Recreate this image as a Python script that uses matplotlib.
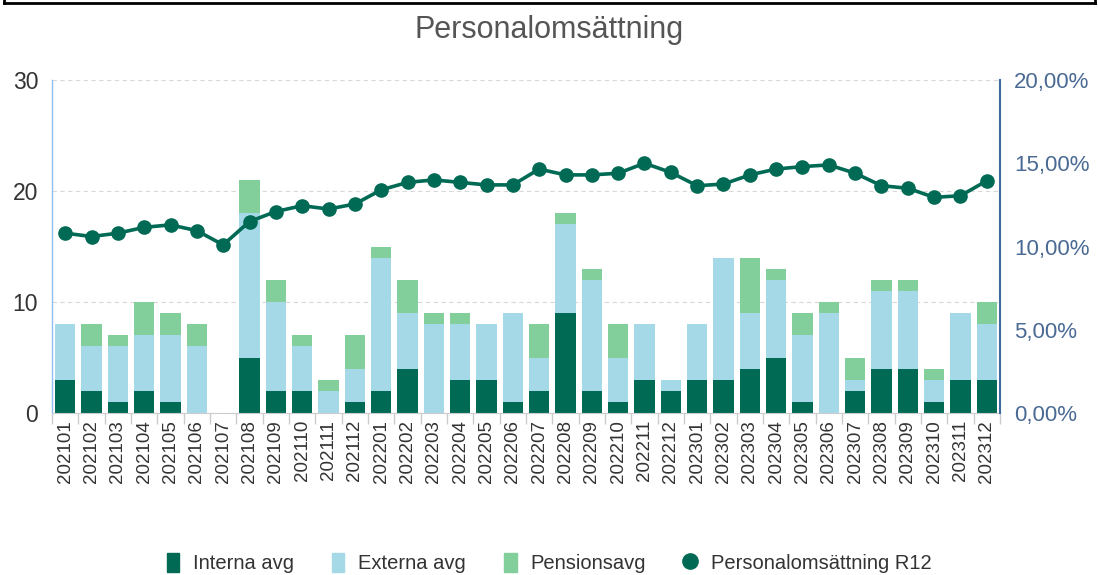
import numpy as np
import matplotlib
matplotlib.use("Agg")
import matplotlib.pyplot as plt
from matplotlib.lines import Line2D
from matplotlib.patches import Patch
from matplotlib.ticker import FuncFormatter

plt.rcParams['font.family'] = ['Liberation Sans', 'DejaVu Sans']

# months
months = ["202101", "202102", "202103", "202104", "202105", "202106",
          "202107", "202108", "202109", "202110", "202111", "202112",
          "202201", "202202", "202203", "202204", "202205", "202206",
          "202207", "202208", "202209", "202210", "202211", "202212",
          "202301", "202302", "202303", "202304", "202305", "202306",
          "202307", "202308", "202309", "202310", "202311", "202312"]

# leavers per month
interna = [3, 2, 1, 2, 1, 0, 0, 5, 2, 2, 0, 1,
           2, 4, 0, 3, 3, 1, 2, 9, 2, 1, 3, 2,
           3, 3, 4, 5, 1, 0, 2, 4, 4, 1, 3, 3]
externa = [5, 4, 5, 5, 6, 6, 0, 13, 8, 4, 2, 3,
           12, 5, 8, 5, 5, 8, 3, 8, 10, 4, 5, 1,
           5, 11, 5, 7, 6, 9, 1, 7, 7, 2, 6, 5]
pension = [0, 2, 1, 3, 2, 2, 0, 3, 2, 1, 1, 3,
           1, 3, 1, 1, 0, 0, 3, 1, 1, 3, 0, 0,
           0, 0, 5, 1, 2, 1, 2, 1, 1, 1, 0, 2]

# rolling 12 month turnover (%)
r12 = [10.8, 10.6, 10.8, 11.15, 11.3, 10.95, 10.1, 11.5, 12.1, 12.45, 12.25, 12.55,
       13.4, 13.85, 14.0, 13.85, 13.7, 13.7, 14.65, 14.3, 14.3, 14.4, 15.0, 14.45,
       13.65, 13.75, 14.3, 14.65, 14.8, 14.9, 14.4, 13.65, 13.5, 12.95, 13.05, 13.95]

c_int = "#006a55"
c_ext = "#a6d9e7"
c_pen = "#83cf9c"

fig = plt.figure(figsize=(10.98, 5.75), dpi=100)
ax = fig.add_axes([52/1098, 1 - 413/575, 948/1098, 333/575])
ax2 = ax.twinx()

x = np.arange(len(months))
w = 0.76
interna = np.array(interna)
externa = np.array(externa)
pension = np.array(pension)

ax.bar(x, interna, w, color=c_int, zorder=2)
ax.bar(x, externa, w, bottom=interna, color=c_ext, zorder=2)
ax.bar(x, pension, w, bottom=interna + externa, color=c_pen, zorder=2)

ax2.plot(x, r12, color=c_int, lw=2.6, marker="o", markersize=9.5, zorder=3)

ax.set_xlim(-0.5, len(months) - 0.5)
ax.set_ylim(0, 30)
ax.set_yticks([0, 10, 20, 30])
ax2.set_ylim(0, 20)
ax2.set_yticks([0, 5, 10, 15, 20])
ax2.yaxis.set_major_formatter(FuncFormatter(lambda v, p: f"{v:.2f}%".replace(".", ",")))

ax.yaxis.grid(True, color="#d8d8d8", ls=(0, (4, 3)), lw=0.8, zorder=0)
ax.set_axisbelow(True)

# x ticks between categories
ax.set_xticks(x)
ax.set_xticklabels(months, rotation=90, fontsize=13.5, color="#333333")
ax.set_xticks(np.arange(-0.5, len(months), 1), minor=True)
ax.tick_params(axis="x", which="major", length=0, pad=5)
ax.tick_params(axis="x", which="minor", length=8, color="#cccccc", width=1)
ax.tick_params(axis="y", length=0, labelsize=16.5, labelcolor="#333333", pad=10)
ax2.tick_params(axis="y", length=0, labelsize=16, labelcolor="#4a6a94", pad=10)

for a in (ax, ax2):
    for s in a.spines.values():
        s.set_visible(False)
ax.spines["left"].set_visible(True)
ax.spines["left"].set_color("#8fbff0")
ax.spines["left"].set_linewidth(1)
ax2.spines["right"].set_visible(True)
ax2.spines["right"].set_color("#3e6aa0")
ax2.spines["right"].set_linewidth(1.5)
ax.spines["bottom"].set_visible(True)
ax.spines["bottom"].set_color("#cccccc")

fig.text(0.5, 1 - 38/575, "Personalomsättning", ha="center", va="baseline",
         fontsize=22, color="#555555")

handles = [Patch(color=c_int), Patch(color=c_ext), Patch(color=c_pen),
           Line2D([], [], color=c_int, marker="o", lw=0, markersize=11)]
labels = ["Interna avg", "Externa avg", "Pensionsavg", "Personalomsättning R12"]
fig.legend(handles, labels, loc="center", bbox_to_anchor=(0.5, 1 - 563/575),
           ncol=4, frameon=False, fontsize=14.5, handlelength=0.6, handleheight=1.1,
           handletextpad=0.7, columnspacing=1.9, labelcolor="#333333")

# frame edge at top of the picture
fig.add_artist(Line2D([4/1098, 1095/1098], [1 - 3/575, 1 - 3/575], color="black", lw=2))
fig.add_artist(Line2D([4/1098, 4/1098], [1 - 3/575, 1.0], color="black", lw=2))
fig.add_artist(Line2D([1095/1098, 1095/1098], [1 - 3/575, 1.0], color="black", lw=2))

fig.savefig("out.png", dpi=100)
